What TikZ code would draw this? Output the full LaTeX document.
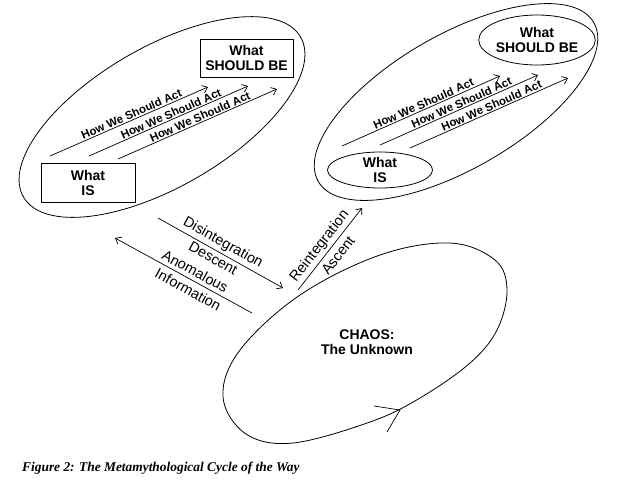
\documentclass[tikz,border=0pt]{standalone}
\usepackage{fontspec}
\setmainfont{Liberation Sans}
\newfontfamily\capfont{Liberation Serif}
\usetikzlibrary{shapes.geometric,arrows.meta}
\tikzset{
  big/.style={draw, ellipse, line width=0.8pt, inner sep=0pt},
  boxnode/.style={draw, line width=0.8pt, inner sep=0pt, align=center, font=\fontsize{14}{15}\selectfont\bfseries},
  ovalnode/.style={draw, ellipse, line width=0.8pt, inner sep=0pt, align=center, font=\fontsize{14}{15}\selectfont\bfseries},
  arr/.style={line width=0.7pt, -{Straight Barb[length=5pt,width=8pt]}},
  actlbl/.style={sloped, above=1.2pt, inner sep=0pt, font=\fontsize{11.5}{12}\selectfont\bfseries},
  midlbl/.style={sloped, inner sep=0pt, font=\fontsize{14.5}{15}\selectfont},
}
\begin{document}
\begin{tikzpicture}[x=1pt,y=-1pt]
\useasboundingbox (0,0) rectangle (617,480);
% big ellipses
\node[big, minimum width=320pt, minimum height=140pt, rotate=30] (L) at (162,117) {};
\node[big, minimum width=318pt, minimum height=134pt, rotate=30] (R) at (456,102) {};
% chaos outline
\draw[line width=0.8pt] plot[smooth cycle, tension=0.6] coordinates {
  (450,243) (495,260) (507,290) (497,330) (470,363) (420,398) (370,422)
  (293,443) (246,434) (223,397) (240,350) (300,295) (380,255)};
% left group
\node[boxnode, minimum width=94pt, minimum height=39pt] (lis) at (88,182.5) {What\\IS};
\node[boxnode, minimum width=93pt, minimum height=38pt] (lsb) at (246.5,58) {What\\SHOULD BE};
\coordinate (la1) at (50,156);  \coordinate (lb1) at (208,87);
\coordinate (la2) at (89,156);  \coordinate (lb2) at (248,86);
\coordinate (la3) at (118,159); \coordinate (lb3) at (277,89);
\draw[arr] (la1) -- node[actlbl, pos=.53] {How We Should Act} (lb1);
\draw[arr] (la2) -- node[actlbl, pos=.53] {How We Should Act} (lb2);
\draw[arr] (la3) -- node[actlbl, pos=.53] {How We Should Act} (lb3);
% right group
\node[ovalnode, minimum width=105pt, minimum height=36pt] (ris) at (380,170) {What\\IS};
\node[ovalnode, minimum width=105pt, minimum height=50pt] (rsb) at (537,40) {What\\SHOULD BE};
\coordinate (ra1) at (342,146); \coordinate (rb1) at (500,76);
\coordinate (ra2) at (380,145); \coordinate (rb2) at (538,75);
\coordinate (ra3) at (410,148); \coordinate (rb3) at (568,78);
\draw[arr] (ra1) -- node[actlbl, pos=.53] {How We Should Act} (rb1);
\draw[arr] (ra2) -- node[actlbl, pos=.53] {How We Should Act} (rb2);
\draw[arr] (ra3) -- node[actlbl, pos=.53] {How We Should Act} (rb3);
% chaos
\node[font=\fontsize{14}{15}\selectfont\bfseries, align=center] (ct) at (367,342) {CHAOS:\\The Unknown};
\coordinate (ctip) at (400,410);
\coordinate (cb1) at (374,406);
\coordinate (cb2) at (387,432);
\draw[line width=0.7pt] (cb1) -- (ctip) -- (cb2);
% middle arrows
\coordinate (d1) at (158,218); \coordinate (d2) at (283,288);
\draw[arr] (d1) -- node[midlbl, pos=.48, above=2.8pt] {Disintegration}
                   node[midlbl, pos=.474, below=2.9pt] {Descent} (d2);
\coordinate (a1) at (252,313); \coordinate (a2) at (115,238);
\draw[arr] (a1) -- node[midlbl, pos=.447, above=3.6pt] {Anomalous}
                   node[midlbl, pos=.43, below=4.6pt] {Information} (a2);
\coordinate (r1) at (298,290); \coordinate (r2) at (362,208);
\draw[arr] (r1) -- node[midlbl, pos=.46, above=2.6pt] {Reintegration}
                   node[midlbl, pos=.5, below=4.8pt] {Ascent} (r2);
% caption
\node[anchor=west, inner sep=0pt, font=\capfont\fontsize{13.4}{14}\selectfont\bfseries\itshape] (cap) at (22,468) {Figure 2: The Metamythological Cycle of the Way};
\end{tikzpicture}
\end{document}
